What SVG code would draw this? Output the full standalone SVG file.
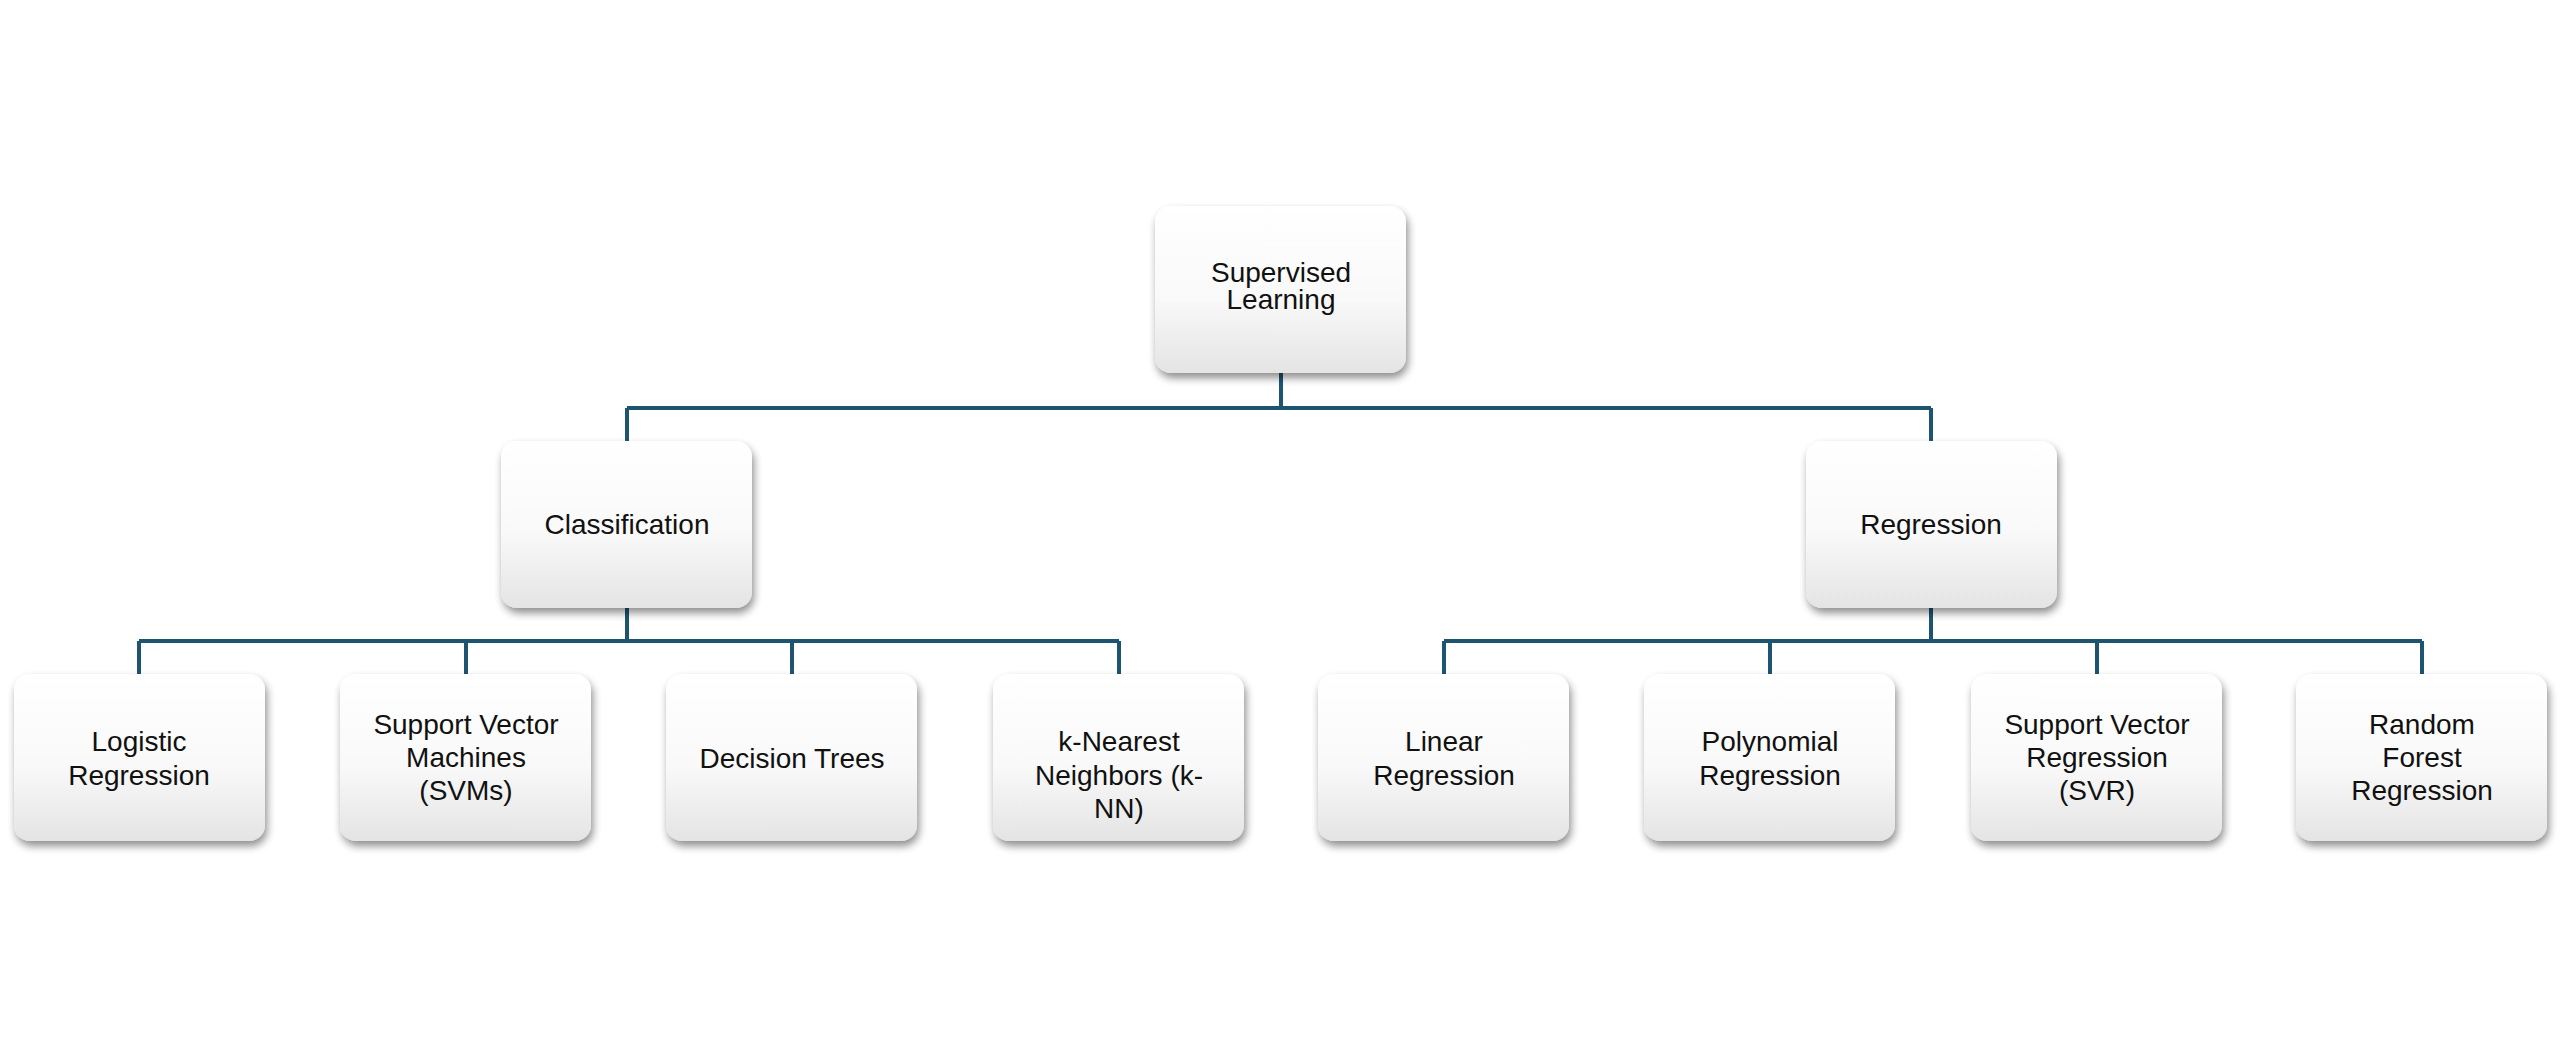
<svg xmlns="http://www.w3.org/2000/svg" width="2560" height="1048" viewBox="0 0 2560 1048">
<defs>
<linearGradient id="g" x1="0" y1="0" x2="0" y2="1"><stop offset="0" stop-color="#ffffff"/><stop offset="0.55" stop-color="#f9f9f9"/><stop offset="1" stop-color="#e4e4e4"/></linearGradient>
<filter id="sh" x="-10%" y="-10%" width="130%" height="140%"><feGaussianBlur in="SourceAlpha" stdDeviation="4"/><feOffset dx="2" dy="5"/><feComponentTransfer><feFuncA type="linear" slope="0.45"/></feComponentTransfer><feMerge><feMergeNode/><feMergeNode in="SourceGraphic"/></feMerge></filter>
</defs>
<style>
.b{fill:url(#g);filter:url(#sh)}
.t{font-family:"Liberation Sans",Arial,sans-serif;font-size:28px;fill:#111;text-anchor:middle}
.c{stroke:#1d5470;stroke-width:4;fill:none}
</style>
<rect width="2560" height="1048" fill="#fff"/>
<g id="connectors" class="c">
<path d="M1281 373V408M627 408H1931M627 408V441M1931 408V441"/>
<path d="M627 607V641M139 641H1119M139 641V674M466 641V674M792 641V674M1119 641V674"/>
<path d="M1931 607V641M1444 641H2422M1444 641V674M1770 641V674M2097 641V674M2422 641V674"/>
</g>
<g id="n0"><rect class="b" x="1155" y="206" width="251" height="167" rx="16"/><text class="t" x="1281" y="282">Supervised</text><text class="t" x="1281" y="309">Learning</text></g>
<g id="n1"><rect class="b" x="501" y="441" width="251" height="167" rx="16"/><text class="t" x="627" y="534">Classification</text></g>
<g id="n2"><rect class="b" x="1806" y="441" width="251" height="167" rx="16"/><text class="t" x="1931" y="534">Regression</text></g>
<g id="n3"><rect class="b" x="14" y="674" width="251" height="167" rx="16"/><text class="t" x="139" y="751">Logistic</text><text class="t" x="139" y="785">Regression</text></g>
<g id="n4"><rect class="b" x="340" y="674" width="251" height="167" rx="16"/><text class="t" x="466" y="734">Support Vector</text><text class="t" x="466" y="767">Machines</text><text class="t" x="466" y="800">(SVMs)</text></g>
<g id="n5"><rect class="b" x="666" y="674" width="251" height="167" rx="16"/><text class="t" x="792" y="768">Decision Trees</text></g>
<g id="n6"><rect class="b" x="993" y="674" width="251" height="167" rx="16"/><text class="t" x="1119" y="751">k-Nearest</text><text class="t" x="1119" y="785">Neighbors (k-</text><text class="t" x="1119" y="818">NN)</text></g>
<g id="n7"><rect class="b" x="1318" y="674" width="251" height="167" rx="16"/><text class="t" x="1444" y="751">Linear</text><text class="t" x="1444" y="785">Regression</text></g>
<g id="n8"><rect class="b" x="1644" y="674" width="251" height="167" rx="16"/><text class="t" x="1770" y="751">Polynomial</text><text class="t" x="1770" y="785">Regression</text></g>
<g id="n9"><rect class="b" x="1971" y="674" width="251" height="167" rx="16"/><text class="t" x="2097" y="734">Support Vector</text><text class="t" x="2097" y="767">Regression</text><text class="t" x="2097" y="800">(SVR)</text></g>
<g id="n10"><rect class="b" x="2296" y="674" width="251" height="167" rx="16"/><text class="t" x="2422" y="734">Random</text><text class="t" x="2422" y="767">Forest</text><text class="t" x="2422" y="800">Regression</text></g>
</svg>
